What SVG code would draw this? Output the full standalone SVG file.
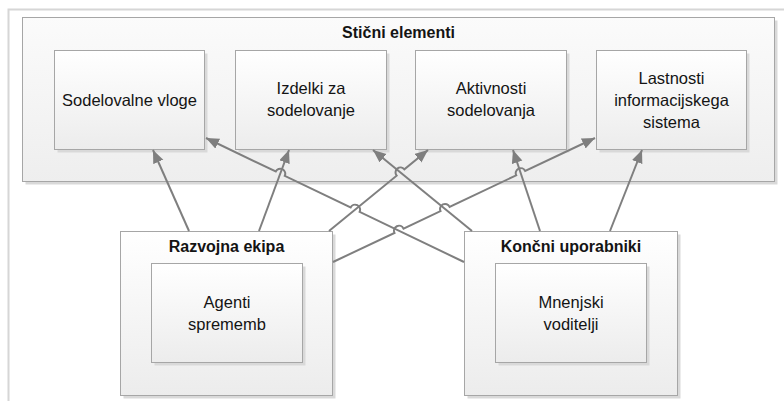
<svg xmlns="http://www.w3.org/2000/svg" width="784" height="401" viewBox="0 0 784 401">
<defs>
<linearGradient id="gBox" x1="0" y1="0" x2="0" y2="1">
<stop offset="0" stop-color="#ffffff"/>
<stop offset="1" stop-color="#ececec"/>
</linearGradient>
<linearGradient id="gCont" x1="0" y1="0" x2="0" y2="1">
<stop offset="0" stop-color="#fbfbfb"/>
<stop offset="1" stop-color="#eeeeee"/>
</linearGradient>
<marker id="arrow" markerUnits="userSpaceOnUse" markerWidth="14" markerHeight="12" refX="13" refY="5.5" orient="auto">
<path d="M0,0 L13,5.5 L0,11 Z" fill="#7f7f7f"/>
</marker>
</defs>
<style>
.box{fill:url(#gBox);stroke:#a6a6a6;stroke-width:1}
.cont{fill:url(#gCont);stroke:#a6a6a6;stroke-width:1}
.shadow{fill:#d9d9d9}
.t{font-family:"Liberation Sans",Arial,sans-serif;font-size:16.5px;fill:#141414;text-anchor:middle}
.h{font-family:"Liberation Sans",Arial,sans-serif;font-size:16px;font-weight:bold;fill:#141414;text-anchor:middle}
.c{fill:none;stroke:#7f7f7f;stroke-width:2;marker-end:url(#arrow)}
</style>
<rect x="0" y="0" width="784" height="401" fill="#ffffff"/>
<path d="M8.5,401 V9.5 H784" fill="none" stroke="#d6d6d6" stroke-width="2"/>

<g id="sticni-elementi">
<rect class="shadow" x="25.5" y="20.5" width="752" height="164"/>
<rect class="cont" x="22.5" y="17.5" width="752" height="164"/>
<text class="h" x="398.5" y="38">Stični elementi</text>
</g>

<g id="sodelovalne-vloge">
<rect class="shadow" x="57.5" y="53.5" width="150" height="99"/>
<rect class="box" x="54.5" y="50.5" width="150" height="99"/>
<text class="t" x="129.5" y="105.5">Sodelovalne vloge</text>
</g>

<g id="izdelki-za-sodelovanje">
<rect class="shadow" x="238.5" y="53.5" width="151" height="99"/>
<rect class="box" x="235.5" y="50.5" width="151" height="99"/>
<text class="t" x="311" y="94">Izdelki za</text>
<text class="t" x="311" y="116">sodelovanje</text>
</g>

<g id="aktivnosti-sodelovanja">
<rect class="shadow" x="418.5" y="53.5" width="151" height="99"/>
<rect class="box" x="415.5" y="50.5" width="151" height="99"/>
<text class="t" x="491" y="94">Aktivnosti</text>
<text class="t" x="491" y="116">sodelovanja</text>
</g>

<g id="lastnosti-informacijskega-sistema">
<rect class="shadow" x="599.5" y="53.5" width="150" height="99"/>
<rect class="box" x="596.5" y="50.5" width="150" height="99"/>
<text class="t" x="671.5" y="83.5">Lastnosti</text>
<text class="t" x="671.5" y="105.5">informacijskega</text>
<text class="t" x="671.5" y="127.5">sistema</text>
</g>

<g id="razvojna-ekipa">
<rect class="shadow" x="123.5" y="234.5" width="212" height="164"/>
<rect class="box" x="120.5" y="231.5" width="212" height="164"/>
<text class="h" x="226.5" y="252">Razvojna ekipa</text>
</g>

<g id="agenti-sprememb">
<rect class="shadow" x="154.5" y="266.5" width="151" height="99"/>
<rect class="box" x="151.5" y="263.5" width="151" height="99"/>
<text class="t" x="227" y="308">Agenti</text>
<text class="t" x="227" y="330">sprememb</text>
</g>

<g id="koncni-uporabniki">
<rect class="shadow" x="467.5" y="234.5" width="213" height="164"/>
<rect class="box" x="464.5" y="231.5" width="213" height="164"/>
<text class="h" x="571" y="252">Končni uporabniki</text>
</g>

<g id="mnenjski-voditelji">
<rect class="shadow" x="498.5" y="266.5" width="151" height="99"/>
<rect class="box" x="495.5" y="263.5" width="151" height="99"/>
<text class="t" x="571" y="307.5">Mnenjski</text>
<text class="t" x="571" y="330">voditelji</text>
</g>

<g id="connectors">
<path class="c" d="M189,231 L153,150"/>
<path class="c" d="M259,231 L289,150"/>
<path class="c" d="M329,231 L396.63,175.67 A5,5 0 0 1 404.37,169.33 L428,150"/>
<path class="c" d="M333,262 L394.48,232.90 A5,5 0 0 1 403.52,228.62 L440.54,211.10 A5,5 0 0 1 449.58,206.82 L516.20,175.30 A5,5 0 0 1 525.24,171.02 L595,138"/>
<path class="c" d="M464,262 L359.60,211.83 A5,5 0 0 0 350.58,207.49 L284.74,175.85 A5,5 0 0 0 275.72,171.51 L206,138"/>
<path class="c" d="M472,231 L373,150"/>
<path class="c" d="M540,231 L513,150"/>
<path class="c" d="M610,231 L642,150"/>
</g>
</svg>
